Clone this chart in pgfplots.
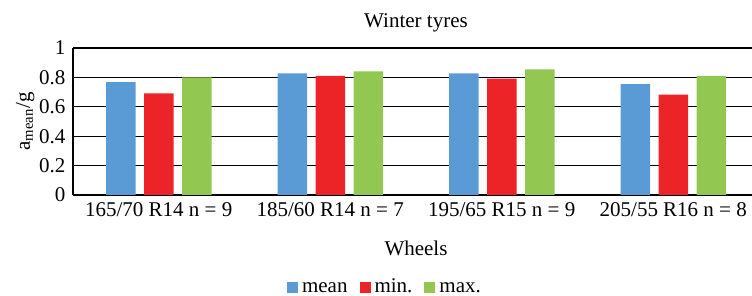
\documentclass[border=0pt]{standalone}
\usepackage{pgfplots}
\pgfplotsset{compat=1.18}
\usepackage{fontspec}
\setmainfont{Liberation Serif}
\definecolor{cmean}{HTML}{5B9BD5}
\definecolor{cmin}{HTML}{EC2427}
\definecolor{cmax}{HTML}{92C852}
\newcommand{\f}{\fontsize{21}{25}\selectfont}
\begin{document}
\begin{tikzpicture}
\begin{axis}[
  at={(0pt,0pt)}, anchor=south west,
  scale only axis, width=686pt, height=147pt,
  xmin=-0.5, xmax=3.5, ymin=0, ymax=1,
  ybar=8.5pt, bar width=29.5pt,
  axis x line=bottom, axis y line=left,
  axis line style={-, black, line width=1.6pt},
  ymajorgrids, grid style={black, line width=1.2pt},
  major tick length=0pt,
  xtick={0,1,2,3},
  xticklabels={{165/70 R14 n = 9},{185/60 R14 n = 7},{195/65 R15 n = 9},{205/55 R16 n = 8}},
  ytick={0,0.2,0.4,0.6,0.8,1},
  /pgf/number format/assume math mode=true,
  tick label style={font=\f},
  xticklabel style={yshift=-4pt},
  yticklabel style={xshift=-4pt},
  title={Winter tyres}, title style={font=\f, yshift=6pt},
  xlabel={Wheels}, ylabel={a\textsubscript{mean}/g},
  label style={font=\f},
  xlabel style={yshift=-17pt},
  ylabel style={yshift=-2pt},
  legend style={at={(0.454,-0.618)}, anchor=center, draw=none, font=\f,
    inner sep=0pt, fill=none,
    nodes={text height=14pt, text depth=0pt, inner sep=1pt},
    legend columns=3,
    /tikz/every odd column/.append style={column sep=3pt},
    /tikz/every even column/.append style={column sep=11pt}},
  legend image code/.code={\fill[#1] (0pt,-7pt) rectangle (11pt,4pt);},
]
\addplot[fill=cmean, draw=none] coordinates {(0,0.767) (1,0.828) (2,0.828) (3,0.755)};
\addplot[fill=cmin, draw=none] coordinates {(0,0.692) (1,0.810) (2,0.791) (3,0.682)};
\addplot[fill=cmax, draw=none] coordinates {(0,0.800) (1,0.841) (2,0.855) (3,0.810)};
\legend{mean, min., max.}
\end{axis}
\pgfresetboundingbox
\path (-73pt,-101pt) rectangle (679pt,195pt);
\end{tikzpicture}
\end{document}
